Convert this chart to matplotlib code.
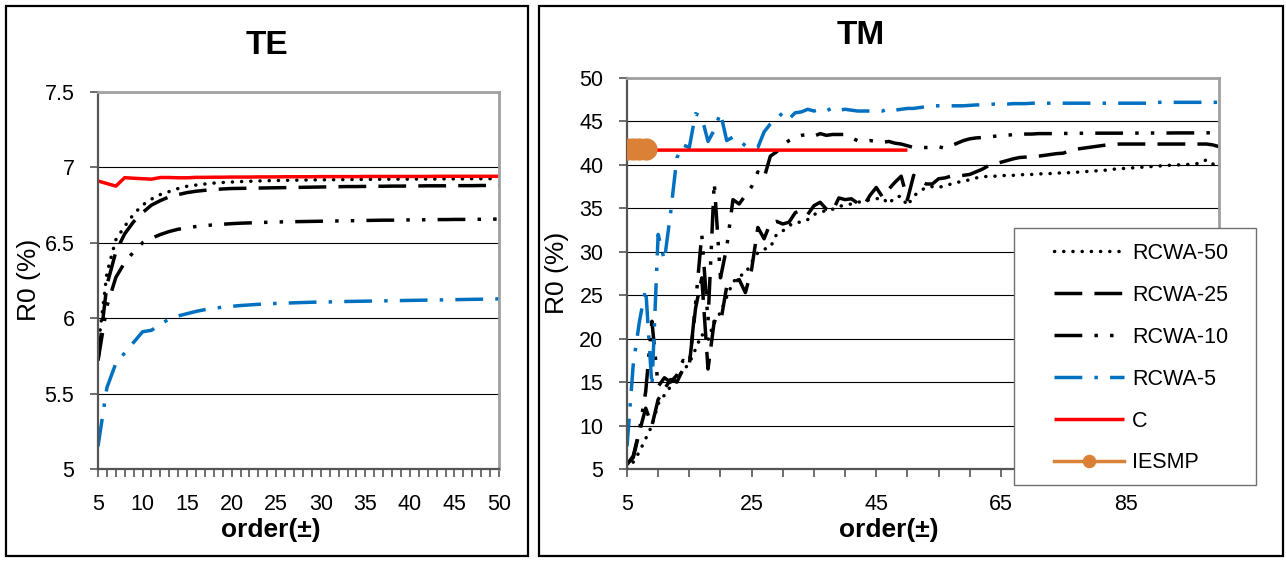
import matplotlib
matplotlib.use("Agg")
import matplotlib.pyplot as plt
from matplotlib.patches import Rectangle
from matplotlib.ticker import FixedLocator, FuncFormatter

plt.rcParams['font.family'] = ['Liberation Sans', 'DejaVu Sans']

# ---------------- data ----------------
te_order = list(range(5, 51))
te_rcwa50 = [5.80, 6.30, 6.52, 6.61, 6.69, 6.75, 6.79, 6.82, 6.84, 6.86,
             6.875, 6.883, 6.89, 6.896, 6.90, 6.903, 6.906, 6.908, 6.91, 6.912,
             6.913, 6.914, 6.915, 6.916, 6.917, 6.918, 6.918, 6.919, 6.919, 6.92,
             6.92, 6.921, 6.921, 6.922, 6.922, 6.922, 6.923, 6.923, 6.923, 6.924,
             6.924, 6.924, 6.925, 6.925, 6.925, 6.926]
te_rcwa25 = [5.72, 6.22, 6.44, 6.56, 6.64, 6.70, 6.75, 6.78, 6.805, 6.82,
             6.833, 6.842, 6.848, 6.853, 6.857, 6.86, 6.861, 6.862, 6.863, 6.864,
             6.865, 6.866, 6.867, 6.868, 6.869, 6.87, 6.871, 6.872, 6.873, 6.873,
             6.874, 6.875, 6.875, 6.876, 6.876, 6.877, 6.877, 6.878, 6.878, 6.878,
             6.879, 6.879, 6.879, 6.88, 6.88, 6.88]
te_rcwa10 = [5.72, 6.08, 6.27, 6.37, 6.44, 6.50, 6.53, 6.555, 6.575, 6.59,
             6.60, 6.608, 6.614, 6.619, 6.623, 6.627, 6.63, 6.632, 6.634, 6.636,
             6.638, 6.639, 6.64, 6.641, 6.642, 6.643, 6.644, 6.645, 6.646, 6.647,
             6.648, 6.649, 6.65, 6.65, 6.651, 6.652, 6.652, 6.653, 6.654, 6.654,
             6.655, 6.655, 6.656, 6.656, 6.657, 6.657]
te_rcwa5 = [5.15, 5.54, 5.70, 5.77, 5.84, 5.91, 5.92, 5.96, 5.995, 6.015,
            6.03, 6.045, 6.057, 6.066, 6.073, 6.079, 6.084, 6.088, 6.092, 6.095,
            6.098, 6.10, 6.102, 6.104, 6.106, 6.107, 6.108, 6.11, 6.111, 6.112,
            6.113, 6.114, 6.115, 6.116, 6.117, 6.118, 6.119, 6.12, 6.121, 6.122,
            6.123, 6.124, 6.125, 6.126, 6.127, 6.128]
te_c = [6.91, 6.893, 6.876, 6.932, 6.928, 6.925, 6.922, 6.933, 6.933, 6.931,
        6.931, 6.934, 6.934, 6.935, 6.935, 6.936, 6.936, 6.936, 6.937, 6.937,
        6.937, 6.938, 6.938, 6.938, 6.938, 6.939, 6.939, 6.939, 6.939, 6.939,
        6.94, 6.94, 6.94, 6.94, 6.94, 6.94, 6.94, 6.94, 6.941, 6.941,
        6.941, 6.941, 6.941, 6.941, 6.941, 6.941]

tm_order = list(range(5, 101))
tm_rcwa50 = [5.0, 5.8, 7.0, 8.5, 10.0, 12.5, 13.5, 14.5, 15.5, 16.3,
             17.2, 18.8, 20.5, 19.8, 22.0, 23.0, 24.8, 26.5, 27.2, 27.5,
             28.8, 29.9, 30.3, 30.5, 32.0, 32.4, 33.0, 33.4, 33.4, 33.7,
             34.3, 34.5, 34.8, 34.9, 35.2, 35.4, 35.5, 35.7, 35.8, 36.0,
             36.1, 36.2, 35.5, 36.3, 36.4, 35.3, 36.4, 37.0, 37.4, 37.5,
             37.4, 37.6, 37.8, 38.0, 38.1, 38.3, 38.5, 38.6, 38.7, 38.7,
             38.75, 38.8, 38.8, 38.85, 38.9, 38.9, 38.95, 39.0, 39.0, 39.05,
             39.1, 39.1, 39.15, 39.2, 39.25, 39.3, 39.35, 39.4, 39.5, 39.55,
             39.6, 39.65, 39.7, 39.75, 39.8, 39.85, 39.9, 39.95, 40.0, 40.0,
             40.05, 40.1, 40.2, 40.6, 40.1, 40.1]
tm_rcwa25 = [5.6, 6.3, 9.3, 12.0, 10.0, 13.0, 14.2, 15.3, 15.0, 16.5,
             17.0, 23.5, 27.0, 16.5, 22.0, 21.8, 26.0, 26.5, 26.8, 25.3,
             28.0, 32.8, 31.5, 33.3, 33.5, 33.2, 33.4, 34.5, 34.8, 34.3,
             35.3, 35.7, 34.9, 34.7, 36.2, 36.0, 36.1, 35.6, 35.3, 36.5,
             37.4, 36.3, 37.2, 38.0, 38.7, 36.0, 38.8, 38.2, 37.8, 37.8,
             38.4, 38.5, 38.7, 38.7, 38.8, 38.9, 39.2, 39.5, 39.9, 40.1,
             40.3, 40.5, 40.7, 40.85, 40.9, 41.0, 41.0, 41.1, 41.2, 41.3,
             41.35, 41.6, 41.8, 41.9, 42.0, 42.1, 42.2, 42.3, 42.35, 42.4,
             42.4, 42.4, 42.4, 42.4, 42.4, 42.4, 42.4, 42.4, 42.4, 42.4,
             42.4, 42.4, 42.4, 42.4, 42.3, 42.1]
tm_rcwa10 = [5.5, 6.5, 9.5, 13.9, 22.0, 14.5, 15.5, 15.0, 15.8, 17.5,
             17.0, 24.0, 32.0, 22.0, 38.0, 27.0, 30.5, 36.0, 35.5, 36.5,
             37.5, 39.2, 38.5, 41.0, 41.5, 42.3, 42.8, 43.2, 43.4, 43.5,
             43.3, 43.6, 43.4, 43.5, 43.5, 43.5, 43.1, 42.8, 42.7, 42.8,
             42.7, 42.6, 42.7, 42.5, 42.4, 42.2, 42.0, 42.0, 42.0, 42.0,
             42.1, 41.9, 42.2, 42.5, 42.8, 43.0, 43.1, 43.15, 43.2, 43.3,
             43.35, 43.4, 43.5, 43.5, 43.55, 43.55, 43.6, 43.6, 43.6, 43.6,
             43.62, 43.62, 43.63, 43.64, 43.65, 43.65, 43.65, 43.65, 43.65, 43.65,
             43.66, 43.66, 43.66, 43.66, 43.67, 43.67, 43.67, 43.67, 43.68, 43.68,
             43.68, 43.68, 43.69, 43.69, 43.7, 43.7]
tm_rcwa5 = [7.6, 17.0, 22.0, 25.8, 14.5, 32.0, 29.0, 34.5, 40.8, 42.3,
            42.0, 45.9, 45.5, 42.7, 44.0, 46.0, 42.8, 43.2, 42.8, 42.2,
            42.0, 42.0, 43.8, 44.7, 45.3, 46.0, 45.3, 46.0, 46.1, 46.4,
            46.2, 46.4, 46.2, 46.6, 46.3, 46.4, 46.3, 46.2, 46.2, 46.2,
            46.3, 46.2, 46.5, 46.3, 46.4, 46.5, 46.5, 46.6, 46.7, 46.8,
            46.8, 46.8, 46.8, 46.8, 46.8, 46.85, 46.9, 46.9, 46.95, 47.0,
            47.0, 47.0, 47.05, 47.05, 47.05, 47.1, 47.1, 47.1, 47.1, 47.1,
            47.1, 47.1, 47.1, 47.1, 47.1, 47.1, 47.1, 47.1, 47.1, 47.1,
            47.1, 47.1, 47.1, 47.1, 47.1, 47.2, 47.2, 47.2, 47.2, 47.2,
            47.2, 47.2, 47.2, 47.2, 47.2, 47.2]
tm_c_order = list(range(5, 51))
tm_c = [41.65, 41.65, 41.65, 41.7, 41.7, 41.7, 41.7, 41.7, 41.7, 41.7,
        41.7, 41.7, 41.7, 41.7, 41.7, 41.7, 41.7, 41.7, 41.7, 41.7,
        41.7, 41.7, 41.7, 41.7, 41.7, 41.7, 41.7, 41.7, 41.7, 41.7,
        41.7, 41.7, 41.7, 41.7, 41.7, 41.7, 41.7, 41.7, 41.7, 41.7,
        41.7, 41.7, 41.7, 41.7, 41.7, 41.7]
iesmp_order = [5, 6, 7, 8]
iesmp = [41.8, 41.8, 41.8, 41.8]

series_labels = ['RCWA-50', 'RCWA-25', 'RCWA-10', 'RCWA-5', 'C', 'IESMP']

# ---------------- styles ----------------
BLUE = '#0070C0'
RED = '#FF0000'
ORANGE = '#DA8137'
LW = 2.5
styles = {
    'RCWA-50': dict(color='black', lw=LW, dashes=(0.05, 2.6), dash_capstyle='round'),
    'RCWA-25': dict(color='black', lw=LW, dashes=(8.0, 3.5), dash_capstyle='butt'),
    'RCWA-10': dict(color='black', lw=LW, dashes=(8.0, 3.5, 1, 3.5, 1, 3.5), dash_capstyle='butt'),
    'RCWA-5': dict(color=BLUE, lw=LW, dashes=(8.0, 3.5, 1, 3.5), dash_capstyle='butt'),
    'C': dict(color=RED, lw=LW, solid_capstyle='butt'),
}

W, H = 1286, 561
fig = plt.figure(figsize=(W / 100, H / 100), dpi=100)


def fx(px):
    return px / W


def fy(py):
    return 1 - py / H


# panel frames
fig.patches.append(Rectangle((fx(6), fy(556)), fx(522), 550 / H, transform=fig.transFigure,
                             fill=False, ec='black', lw=1.6, zorder=0))
fig.patches.append(Rectangle((fx(539), fy(556)), fx(744), 550 / H, transform=fig.transFigure,
                             fill=False, ec='black', lw=1.6, zorder=0))

TICK_FS = 15.5


def style_axes(ax):
    for s in ['top', 'right']:
        ax.spines[s].set_color('#A0A0A0')
        ax.spines[s].set_linewidth(2.0)
    for s in ['left', 'bottom']:
        ax.spines[s].set_color('#555555')
        ax.spines[s].set_linewidth(1.6)
    ax.grid(axis='y', color='black', lw=0.8)
    ax.set_axisbelow(True)
    ax.tick_params(axis='both', which='both', direction='out', length=6, width=1.2,
                   color='#555555', labelsize=TICK_FS)
    ax.tick_params(axis='y', pad=11)
    ax.tick_params(axis='x', which='both', pad=12)


# ---------------- TE ----------------
ax1 = fig.add_axes([fx(98), fy(469), fx(401), (469 - 92) / H])
te_series = [te_rcwa50, te_rcwa25, te_rcwa10, te_rcwa5, te_c]
for lab, vals in zip(series_labels[:5], te_series):
    ax1.plot(te_order, vals, label=lab, **styles[lab])
ax1.set_xlim(5, 50)
ax1.set_ylim(5, 7.5)
ax1.set_yticks([5, 5.5, 6, 6.5, 7, 7.5])
ax1.set_yticklabels(['5', '5.5', '6', '6.5', '7', '7.5'])
ax1.set_xticks(list(range(5, 51, 5)))
ax1.xaxis.set_minor_locator(FixedLocator(list(range(5, 51))))
style_axes(ax1)

# ---------------- TM ----------------
ax2 = fig.add_axes([fx(627), fy(469), fx(592), (469 - 78) / H])
tm_series = [tm_rcwa50, tm_rcwa25, tm_rcwa10, tm_rcwa5]
handles = []
for lab, vals in zip(series_labels[:4], tm_series):
    h, = ax2.plot(tm_order, vals, label=lab, **styles[lab])
    handles.append(h)
h, = ax2.plot(tm_c_order, tm_c, label='C', **styles['C'])
handles.append(h)
h, = ax2.plot(iesmp_order, iesmp, label='IESMP', color=ORANGE, lw=LW,
              marker='o', markersize=15, zorder=5)
handles.append(h)
ax2.set_xlim(5, 100)
ax2.set_ylim(5, 50)
ax2.set_yticks(list(range(5, 51, 5)))
ax2.set_xticks(list(range(5, 101, 5)))
label_set = {5, 25, 45, 65, 85}
ax2.xaxis.set_major_formatter(FuncFormatter(lambda v, p: f"{int(round(v))}" if int(round(v)) in label_set else ""))
style_axes(ax2)

# legend
leg = fig.legend(handles=handles, labels=series_labels, loc='upper left',
                 bbox_to_anchor=(fx(1054), fy(243)), bbox_transform=fig.transFigure,
                 frameon=False, fontsize=15.5, borderpad=0, borderaxespad=0,
                 handlelength=3.25, handletextpad=0.37, labelspacing=0.97,
                 markerscale=0.58)
fig.patches.append(Rectangle((fx(1014), fy(485)), fx(242), (485 - 228) / H,
                             transform=fig.transFigure, fill=True, fc='white',
                             ec='#707070', lw=1.0, zorder=3))
leg.set_zorder(4)

# titles & labels
fig.text(fx(267), fy(45), 'TE', ha='center', va='center', fontsize=24, fontweight='bold')
fig.text(fx(861), fy(35), 'TM', ha='center', va='center', fontsize=24, fontweight='bold')
fig.text(fx(271), fy(530), 'order(±)', ha='center', va='center', fontsize=19, fontweight='bold')
fig.text(fx(889), fy(530), 'order(±)', ha='center', va='center', fontsize=19, fontweight='bold')
fig.text(fx(29), fy(280), 'R0 (%)', ha='center', va='center', fontsize=19, rotation=90)
fig.text(fx(557), fy(273), 'R0 (%)', ha='center', va='center', fontsize=19, rotation=90)

fig.savefig('out.png', dpi=100)
